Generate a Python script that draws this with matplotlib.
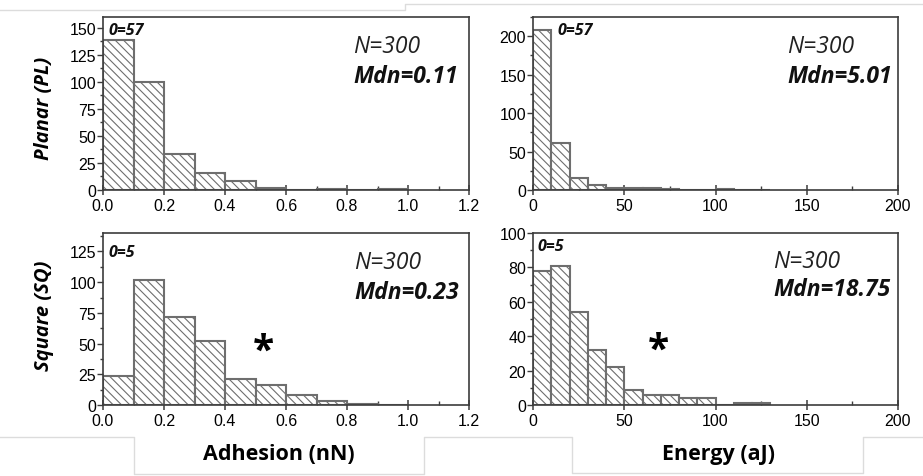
import numpy as np
import matplotlib
matplotlib.use('Agg')
import matplotlib.pyplot as plt
from matplotlib.lines import Line2D
from matplotlib.ticker import MultipleLocator

plt.rcParams['font.family'] = ['Liberation Sans', 'DejaVu Sans']
plt.rcParams['hatch.linewidth'] = 0.8

# histogram data (counts per bin)
adh_edges = [0.0, 0.1, 0.2, 0.3, 0.4, 0.5, 0.6, 0.7, 0.8, 0.9, 1.0]
adh_pl = [139, 100, 33, 16, 8, 2, 0, 1, 0, 1]
adh_sq = [24, 102, 72, 52, 21, 16, 8, 3, 1, 0]

en_edges = [0, 10, 20, 30, 40, 50, 60, 70, 80, 90, 100, 110, 120, 130]
en_pl = [208, 61, 15, 6, 3, 2, 2, 1, 0, 0, 1, 0, 0]
en_sq = [78, 81, 54, 32, 22, 9, 6, 6, 4, 4, 0, 1, 1]

zero_pl = "0=57"
zero_sq = "0=5"
n_txt = "N=300"
mdn = {"adh_pl": "Mdn=0.11", "en_pl": "Mdn=5.01",
       "adh_sq": "Mdn=0.23", "en_sq": "Mdn=18.75"}

W, H = 923, 477
fig = plt.figure(figsize=(W / 100, H / 100), dpi=100)

def px_axes(x0, y0, x1, y1):
    return fig.add_axes([x0 / W, 1 - y1 / H, (x1 - x0) / W, (y1 - y0) / H])

ax_tl = px_axes(103, 18, 469, 191)
ax_tr = px_axes(533, 18, 898, 191)
ax_bl = px_axes(103, 234, 469, 406)
ax_br = px_axes(533, 234, 898, 406)

edge_col = '#6e6e6e'
spine_col = '#3c3c3c'
calibri = ['Open Sans', 'DejaVu Sans']

def hist(ax, edges, counts, xlim, ylim, xmaj, xmin, ymaj, ymin):
    edges = np.array(edges, dtype=float)
    widths = np.diff(edges)
    ax.bar(edges[:-1], counts, width=widths, align='edge', color='white',
           edgecolor=edge_col, linewidth=1.5, hatch='\\\\\\\\', zorder=2)
    ax.set_xlim(*xlim)
    ax.set_ylim(*ylim)
    ax.xaxis.set_major_locator(MultipleLocator(xmaj))
    ax.xaxis.set_minor_locator(MultipleLocator(xmin))
    ax.yaxis.set_major_locator(MultipleLocator(ymaj))
    ax.yaxis.set_minor_locator(MultipleLocator(ymin))
    for s in ax.spines.values():
        s.set_color(spine_col)
        s.set_linewidth(1.2)
    ax.tick_params(axis='x', which='major', direction='inout', length=7,
                   width=1.1, color=spine_col, labelsize=11.5, pad=2)
    ax.tick_params(axis='x', which='minor', direction='in', length=3,
                   width=1.0, color=spine_col)
    ax.tick_params(axis='y', which='major', direction='out', length=4,
                   width=1.0, color=spine_col, labelsize=11.5, pad=1)
    ax.tick_params(axis='y', which='minor', direction='out', length=2.5,
                   width=1.0, color=spine_col)

hist(ax_tl, adh_edges, adh_pl, (0, 1.2), (0, 160), 0.2, 0.1, 25, 12.5)
hist(ax_tr, en_edges, en_pl, (0, 200), (0, 225), 50, 25, 50, 25)
hist(ax_bl, adh_edges, adh_sq, (0, 1.2), (0, 140), 0.2, 0.1, 25, 12.5)
hist(ax_br, en_edges, en_sq, (0, 200), (0, 100), 50, 25, 20, 10)

ax_tl.xaxis.set_major_formatter(lambda v, p: f"{v:.1f}")
ax_bl.xaxis.set_major_formatter(lambda v, p: f"{v:.1f}")

# annotation texts
ann = [
    (ax_tl, 0.683, 0.832, 0.659, mdn["adh_pl"], 0.014, 0.925, zero_pl),
    (ax_tr, 0.696, 0.832, 0.659, mdn["en_pl"], 0.068, 0.925, zero_pl),
    (ax_bl, 0.686, 0.831, 0.657, mdn["adh_sq"], 0.014, 0.890, zero_sq),
    (ax_br, 0.658, 0.837, 0.674, mdn["en_sq"], 0.011, 0.924, zero_sq),
]
for ax, xn, yn, ym, mtxt, xz, yz, ztxt in ann:
    ax.text(xn, yn, n_txt, transform=ax.transAxes, family=calibri,
            style='italic', fontsize=16.5, ha='left', va='center', color='#222222')
    ax.text(xn, ym, mtxt, transform=ax.transAxes, family=calibri,
            style='italic', weight='bold', fontsize=16.5, ha='left', va='center',
            color='#111111')
    ax.text(xz, yz, ztxt, transform=ax.transAxes, family=calibri,
            style='italic', weight='bold', fontsize=11.5, ha='left', va='center',
            color='#111111')

ax_bl.text(0.525, 44, "*", family=calibri, fontsize=28, weight='bold',
           ha='center', va='center')
ax_br.text(68.5, 32, "*", family=calibri, fontsize=28, weight='bold',
           ha='center', va='center')

# row and column labels
fig.text(44 / W, 1 - 108 / H, "Planar (PL)", rotation=90, family=calibri,
         style='italic', weight='bold', fontsize=14.5, ha='center', va='center')
fig.text(44 / W, 1 - 316 / H, "Square (SQ)", rotation=90, family=calibri,
         style='italic', weight='bold', fontsize=14.5, ha='center', va='center')
fig.text(278.5 / W, 1 - 455 / H, "Adhesion (nN)", family=calibri,
         weight='bold', fontsize=15.5, ha='center', va='center')
fig.text(718 / W, 1 - 455 / H, "Energy (aJ)", family=calibri,
         weight='bold', fontsize=15.5, ha='center', va='center')

# faint screenshot frame lines
def frame_line(xs, ys):
    fig.add_artist(Line2D([x / W for x in xs], [1 - y / H for y in ys],
                          transform=fig.transFigure, color='#dcdcdc', lw=1))

frame_line([0, 405, 405, 923], [11, 11, 5, 5])
frame_line([0, 134, 134, 424, 424, 572, 572, 863, 863, 923],
           [438, 438, 475, 475, 438, 438, 474, 474, 438, 438])

fig.savefig('out.png', dpi=100)
